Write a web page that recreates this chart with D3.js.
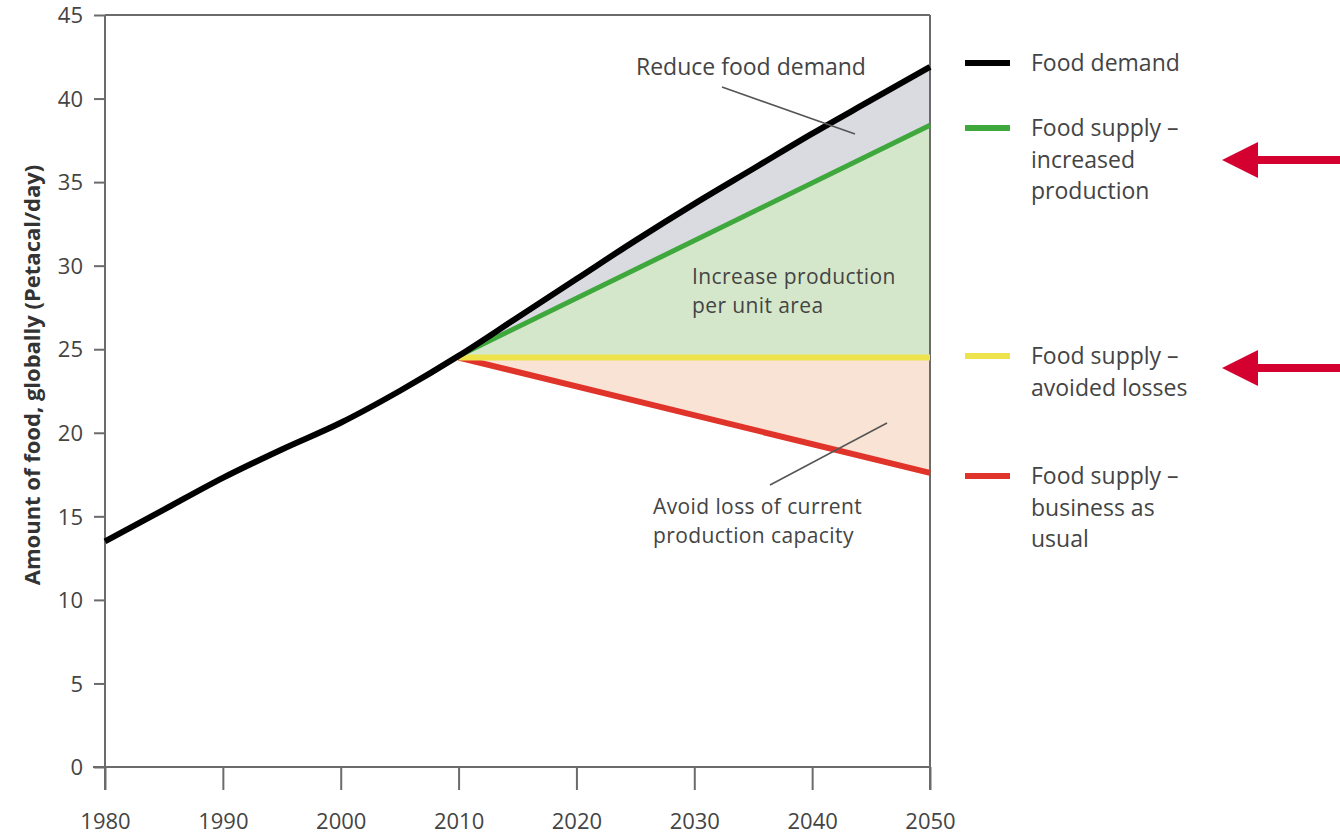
<!DOCTYPE html>
<html><head><meta charset="utf-8">
<script src="https://cdn.jsdelivr.net/npm/d3@7"></script>
<style>
body{margin:0;background:#fff;}
text{font-family:"Open Sans","DejaVu Sans",sans-serif;}
</style></head>
<body><svg id="c" width="1340" height="840"></svg>
<script>
const demandYears = [1980,1985,1990,1995,2000,2005,2010,2015,2020,2025,2030,2035,2040,2045,2050];
const demandValues = [13.5,15.4,17.3,19.0,20.6,22.5,24.6,26.9,29.2,31.5,33.7,35.8,37.9,39.9,41.9];
const scenarioYears = [2010,2050];
const increasedProduction = [24.6,38.4];
const avoidedLosses = [24.5,24.5];
const businessAsUsual = [24.5,17.6];
const xTicks = [1980,1990,2000,2010,2020,2030,2040,2050];
const yTicks = [0,5,10,15,20,25,30,35,40,45];
const legendLabels = [["Food demand"],["Food supply –","increased","production"],["Food supply –","avoided losses"],["Food supply –","business as","usual"]];
const legendColors = ["#000000","#3fa83c","#ede34c","#e0342a"];
const legendYValues = [63,128,356,476];

const svg = d3.select("#c");
const x = d3.scaleLinear().domain([1980,2050]).range([105,930]);
const y = d3.scaleLinear().domain([0,45]).range([767,15]);
const axisCol = "#6b6b6b", textCol = "#444";

const dem = demandYears.map((d,i)=>({x:d,y:demandValues[i]}));
const demFuture = dem.filter(d=>d.x>=2010);
const lin = (arr)=>d=>arr[0]+(arr[1]-arr[0])*(d-2010)/40;
const green = lin(increasedProduction), yellow = lin(avoidedLosses), red = lin(businessAsUsual);

// areas
const area = d3.area().x(d=>x(d.x)).y0(d=>y(d.y0)).y1(d=>y(d.y1)).curve(d3.curveMonotoneX);
svg.append("path").attr("d",area(demFuture.map(d=>({x:d.x,y1:d.y,y0:green(d.x)})))).attr("fill","#d9dbe1");
svg.append("path").attr("d",area(scenarioYears.map(d=>({x:d,y1:green(d),y0:yellow(d)})))).attr("fill","#d5e7cb");
svg.append("path").attr("d",area(scenarioYears.map(d=>({x:d,y1:yellow(d),y0:red(d)})))).attr("fill","#f9e3d5");

// frame / axes
const g = svg.append("g");
g.append("line").attr("x1",93).attr("x2",x(2050)).attr("y1",y(0)).attr("y2",y(0)).attr("stroke",axisCol).attr("stroke-width",2);
g.append("line").attr("x1",x(1980)).attr("x2",x(2050)).attr("y1",y(45)).attr("y2",y(45)).attr("stroke",axisCol).attr("stroke-width",2);
g.append("line").attr("x1",x(1980)).attr("x2",x(1980)).attr("y1",y(45)).attr("y2",790).attr("stroke",axisCol).attr("stroke-width",2);
g.append("line").attr("x1",x(2050)).attr("x2",x(2050)).attr("y1",y(45)).attr("y2",790).attr("stroke",axisCol).attr("stroke-width",2);

const yAxis = d3.axisLeft(y).tickValues(yTicks).tickSize(11).tickPadding(11);
const ya = svg.append("g").attr("transform",`translate(${x(1980)},0)`).call(yAxis);
const xAxis = d3.axisBottom(x).tickValues(xTicks).tickFormat(d3.format("d")).tickSize(23).tickPadding(23);
const xa = svg.append("g").attr("transform",`translate(0,${y(0)})`).call(xAxis);
[ya,xa].forEach(a=>{
  a.select(".domain").remove();
  a.selectAll("line").attr("stroke",axisCol).attr("stroke-width",2);
  a.selectAll("text").attr("fill",textCol).style("font-size","22px").style("font-family",'"Open Sans",sans-serif');
});
ya.selectAll("text").attr("dy","0.35em");

svg.append("text").attr("transform",`translate(40,375) rotate(-90)`).attr("text-anchor","middle")
  .attr("fill","#333").style("font-size","22px").style("font-weight","bold")
  .text("Amount of food, globally (Petacal/day)");

// lines
const line = d3.line().x(d=>x(d.x)).y(d=>y(d.y));
const sc = (f)=>scenarioYears.map(d=>({x:d,y:f(d)}));
svg.append("path").attr("d",line(sc(red))).attr("stroke",legendColors[3]).attr("stroke-width",6).attr("fill","none");
svg.append("path").attr("d",line(sc(yellow))).attr("stroke",legendColors[2]).attr("stroke-width",6).attr("fill","none");
svg.append("path").attr("d",line(sc(green))).attr("stroke",legendColors[1]).attr("stroke-width",5).attr("fill","none");
svg.append("path").attr("d",line.curve(d3.curveMonotoneX)(dem)).attr("stroke","#000").attr("stroke-width",6).attr("fill","none").attr("stroke-linejoin","round");

// annotations
const ann = svg.append("g").attr("fill",textCol).style("font-size","21px").style("letter-spacing","0.4px");
ann.append("text").attr("x",636).attr("y",75).style("font-size","23px").style("letter-spacing","0px").text("Reduce food demand");
svg.append("line").attr("x1",722).attr("y1",87).attr("x2",855).attr("y2",134).attr("stroke","#555").attr("stroke-width",1.5);
ann.append("text").attr("x",692).attr("y",284).text("Increase production");
ann.append("text").attr("x",692).attr("y",313).text("per unit area");
ann.append("text").attr("x",653).attr("y",514).text("Avoid loss of current");
ann.append("text").attr("x",653).attr("y",543).text("production capacity");
svg.append("line").attr("x1",770).attr("y1",485).attr("x2",887).attr("y2",423).attr("stroke","#555").attr("stroke-width",1.5);

// legend
const lg = svg.append("g");
legendLabels.forEach((lab,i)=>{
  const yy = legendYValues[i];
  lg.append("line").attr("x1",965).attr("x2",1010).attr("y1",yy).attr("y2",yy).attr("stroke",legendColors[i]).attr("stroke-width",6);
  lab.forEach((t,j)=>{
    lg.append("text").attr("x",1031).attr("y",yy+j*31.5).attr("dy","0.35em").attr("fill",textCol).style("font-size","23px").text(t);
  });
});

// red arrows
[160,368].forEach(yy=>{
  svg.append("path").attr("d",`M1222,${yy} L1258,${yy-18} L1258,${yy-4} L1340,${yy-4} L1340,${yy+4} L1258,${yy+4} L1258,${yy+18} Z`).attr("fill","#d4002f");
});
</script></body></html>
